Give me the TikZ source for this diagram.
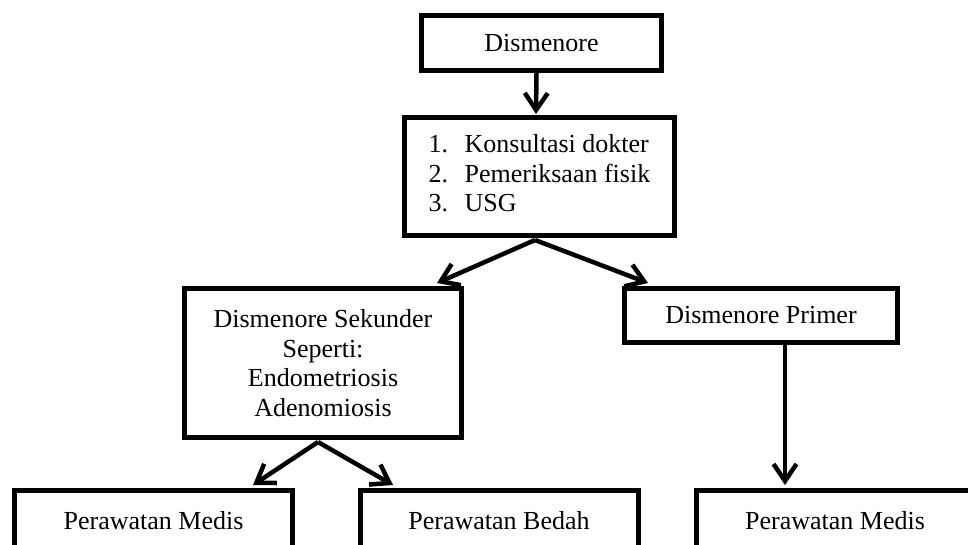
\documentclass[tikz,border=0pt]{standalone}
\usepackage{fontspec}
\setmainfont{Liberation Serif}
\usetikzlibrary{arrows.meta}
\begin{document}
\begin{tikzpicture}[x=1pt,y=-1pt,
  box/.style n args={2}{draw, line width=5pt, minimum width=#1, minimum height=#2,
    inner sep=0pt, align=center, font=\fontsize{26}{29.5}\selectfont},
  arr/.style={line width=4.5pt, -{Straight Barb[length=17pt,width=23pt]}}]
\useasboundingbox (0,0) rectangle (968,544);
\clip (0,0) rectangle (968,544);
\node[box={240pt}{55pt}] (top) at (541.5,43) {Dismenore};
\node[box={270pt}{118pt}] (exam) at (539.5,176.5)
  {\begin{tabular}{@{}l@{\hspace{16.5pt}}l@{}}1.&Konsultasi dokter\\2.&Pemeriksaan fisik\\3.&USG\end{tabular}};
\node[box={277pt}{149pt}] (sek) at (323,363)
  {Dismenore Sekunder\\Seperti:\\Endometriosis\\Adenomiosis};
\node[box={273pt}{54pt}] (prim) at (761,315.5) {Dismenore Primer};
\node[box={278pt}{61pt}] (med1) at (153.5,521) {Perawatan Medis};
\node[box={278pt}{61pt}] (bedah) at (499,521) {Perawatan Bedah};
\node[box={278pt}{61pt}] (med2) at (835,521) {Perawatan Medis};
\draw[arr] ([xshift=-5pt]top.south) -- ([xshift=-3.5pt,yshift=1pt]exam.north);
\draw[arr] ([xshift=-4.5pt,yshift=-2pt]exam.south) -- ([xshift=114pt,yshift=3pt]sek.north);
\draw[arr] ([xshift=-4.5pt,yshift=-2pt]exam.south) -- ([xshift=-113pt,yshift=3pt]prim.north);
\draw[arr] ([xshift=24pt]prim.south) -- ([xshift=-50pt,yshift=3pt]med2.north);
\draw[arr] ([xshift=-5pt,yshift=-2pt]sek.south) -- ([xshift=99.5pt,yshift=3pt]med1.north);
\draw[arr] ([xshift=-5pt,yshift=-2pt]sek.south) -- ([xshift=-106pt,yshift=3pt]bedah.north);
\end{tikzpicture}
\end{document}
